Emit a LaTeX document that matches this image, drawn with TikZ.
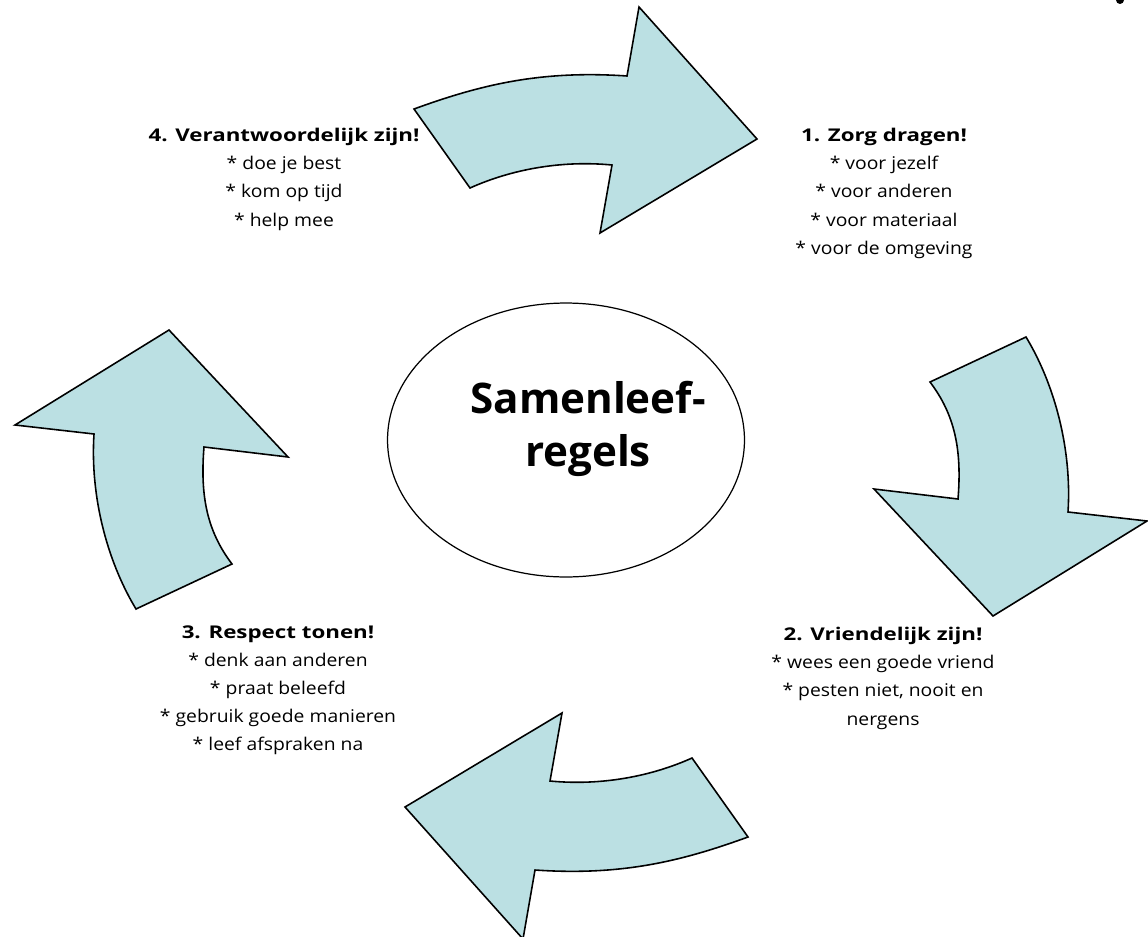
\documentclass[tikz,border=0pt]{standalone}
\usepackage{fontspec}
\setmainfont{Open Sans}[FakeStretch=1.1]
\newfontfamily\headfont{Open Sans}[FakeStretch=1.27]
\newfontfamily\titlefont{Open Sans}
\usetikzlibrary{shapes.geometric}
\definecolor{arrowblue}{RGB}{187,224,227}
\newcommand\rulehead[1]{{\headfont\bfseries #1}}
\tikzset{
  bigarrow/.style={draw=black, fill=arrowblue, line width=0.9pt, line join=miter},
  ruleblock/.style={align=center, inner sep=0pt, anchor=north,
    font=\fontsize{10}{16}\selectfont},
  centerbox/.style={draw, ellipse, line width=0.7pt, inner sep=0pt,
    minimum width=7.14cm, minimum height=5.48cm},
  titletext/.style={align=center, inner sep=0pt,
    font=\titlefont\fontsize{24}{30.5}\selectfont\bfseries}
}
\begin{document}
\begin{tikzpicture}[x=0.02cm, y=-0.02cm]
  \useasboundingbox (0,0) rectangle (1148,936);
  % the four bent arrows
  \draw[bigarrow] (414,109) -- (470,188)
    .. controls (510,170) and (560,160) .. (612,165)
    -- (600,233) -- (757,139) -- (639,7) -- (627,76)
    .. controls (540,70) and (480,85) .. cycle;
  \draw[bigarrow] (930,382) -- (1026,337)
    .. controls (1055,385) and (1072,450) .. (1068,512)
    -- (1147,521) -- (993,616) -- (874,489) -- (958,499)
    .. controls (962,450) and (955,415) .. cycle;
  \begin{scope}[rotate around={180:(581,473)}]
    \draw[bigarrow] (414,109) -- (470,188)
      .. controls (510,170) and (560,160) .. (612,165)
      -- (600,233) -- (757,139) -- (639,7) -- (627,76)
      .. controls (540,70) and (480,85) .. cycle;
    \draw[bigarrow] (930,382) -- (1026,337)
      .. controls (1055,385) and (1072,450) .. (1068,512)
      -- (1147,521) -- (993,616) -- (874,489) -- (958,499)
      .. controls (962,450) and (955,415) .. cycle;
  \end{scope}
  % centre
  \node[centerbox] (regels) at (566,440) {};
  \node[titletext] (title) at ([xshift=0.44cm, yshift=0.22cm]regels.center) {Samenleef-\\regels};
  % the four rules
  \node[ruleblock] (zorg) at (884,128)
    {\rulehead{1. Zorg dragen!}\\* voor jezelf\\* voor anderen\\* voor materiaal\\* voor de omgeving};
  \node[ruleblock] (vriend) at (883,627)
    {\rulehead{2. Vriendelijk zijn!}\\* wees een goede vriend\\* pesten niet, nooit en\\nergens};
  \node[ruleblock] (respect) at (278,625)
    {\rulehead{3. Respect tonen!}\\* denk aan anderen\\* praat beleefd\\* gebruik goede manieren\\* leef afspraken na};
  \node[ruleblock] (verantw) at (284,128)
    {\rulehead{4. Verantwoordelijk zijn!}\\* doe je best\\* kom op tijd\\* help mee};
  \fill (1120,0) circle (4);
\end{tikzpicture}
\end{document}
